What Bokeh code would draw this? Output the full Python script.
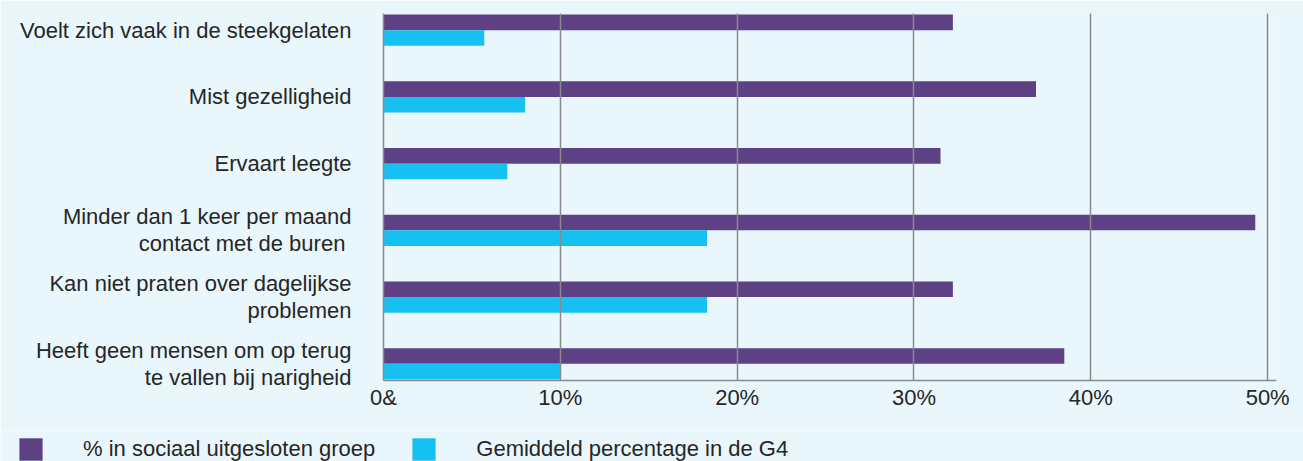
from bokeh.plotting import figure
from bokeh.layouts import column
from bokeh.models import (ColumnDataSource, FactorRange, Range1d, FixedTicker,
                          Legend, LegendItem)
from bokeh.transform import dodge
from bokeh.embed import file_html
from bokeh.resources import INLINE

# ---- data ----
categories = [
    "Voelt zich vaak in de steekgelaten",
    "Mist gezelligheid",
    "Ervaart leegte",
    "Minder dan 1 keer per maand\ncontact met de  buren",
    "Kan niet praten over dagelijkse\nproblemen",
    "Heeft geen mensen om op terug\nte vallen bij narigheid",
]
excluded_pct = [32.2, 36.9, 31.5, 49.3, 32.2, 38.5]
g4_avg_pct = [5.7, 8.0, 7.0, 18.3, 18.3, 10.0]
series_names = ["% in sociaal uitgesloten groep", "Gemiddeld percentage in de G4"]
series_colors = ["#5e4085", "#16c1f2"]
tick_values = [0, 10, 20, 30, 40, 50]
tick_labels = ["0&", "10%", "20%", "30%", "40%", "50%"]

# ---- style ----
BG = "#e9f6fc"
PURPLE, CYAN = series_colors
GRID = "#8a8a8a"
TEXT = "#262626"
FONT = "Liberation Sans"
FSIZE = "22px"

source = ColumnDataSource(dict(cat=categories, excluded=excluded_pct, g4=g4_avg_pct))

y_range = FactorRange(factors=categories[::-1], range_padding=-0.25,
                      range_padding_units="absolute")

p = figure(width=1303, height=430, y_range=y_range, x_range=Range1d(0, 50.5),
           output_backend="svg", toolbar_location=None,
           min_border_left=383, min_border_right=27,
           min_border_top=13, min_border_bottom=50)
p.background_fill_color = BG
p.border_fill_color = BG
p.outline_line_color = None
p.frame_align = False

p.hbar(y=dodge("cat", 0.1175, range=p.y_range), left=0, right="excluded",
       height=0.235, source=source, color=PURPLE, line_color=None)
p.hbar(y=dodge("cat", -0.1175, range=p.y_range), left=0, right="g4",
       height=0.235, source=source, color=CYAN, line_color=None)

# grid
p.ygrid.grid_line_color = None
p.xgrid.grid_line_color = GRID
p.xgrid.grid_line_width = 1.5
p.xgrid.level = "overlay"

# x axis
p.xaxis.ticker = FixedTicker(ticks=tick_values)
p.xaxis.major_label_overrides = {v: l for v, l in zip(tick_values, tick_labels)}
p.xaxis.axis_line_color = GRID
p.xaxis.axis_line_width = 1.5
p.xaxis.major_tick_line_color = None
p.xaxis.minor_tick_line_color = None
p.xaxis.major_tick_in = 0
p.xaxis.major_tick_out = 0
p.xaxis.major_label_standoff = 4
p.xaxis.major_label_text_font = FONT
p.xaxis.major_label_text_font_size = FSIZE
p.xaxis.major_label_text_color = TEXT

# y axis
p.yaxis.axis_line_color = GRID
p.yaxis.axis_line_width = 1.5
p.yaxis.major_tick_line_color = None
p.yaxis.minor_tick_line_color = None
p.yaxis.major_tick_in = 0
p.yaxis.major_tick_out = 0
p.yaxis.major_label_standoff = 32
p.yaxis.major_label_text_font = FONT
p.yaxis.major_label_text_font_size = FSIZE
p.yaxis.major_label_text_color = TEXT
p.yaxis.major_label_text_line_height = 1.08

# ---- legend strip (separate small figure below the chart) ----
lg = figure(width=1303, height=31, x_range=Range1d(0, 1), y_range=Range1d(0, 1),
            output_backend="svg", toolbar_location=None,
            min_border_left=0, min_border_right=0, min_border_top=0,
            min_border_bottom=0)
lg.frame_align = False
lg.axis.visible = False
lg.grid.visible = False
lg.background_fill_color = BG
lg.border_fill_color = BG
lg.outline_line_color = None
# legend swatches (not shown in the plot area itself)
proxies = [lg.rect(x=[0.5], y=[0.5], width=1, height=1, color=c, line_color=None,
                   visible=False) for c in series_colors]

legend = Legend(items=[LegendItem(label=n, renderers=[r])
                       for n, r in zip(series_names, proxies)],
                orientation="horizontal", location=(16, -2),
                padding=0, margin=0, spacing=34, label_standoff=38,
                glyph_width=29, glyph_height=28, label_height=22,
                border_line_color=None, background_fill_alpha=0,
                inactive_fill_alpha=0,
                label_text_font=FONT, label_text_font_size=FSIZE,
                label_text_color=TEXT)
lg.add_layout(legend, "center")

layout = column(p, lg, spacing=0)
html = file_html(layout, INLINE)
html = html.replace("<body>", '<body style="background:%s">' % BG, 1)
open("out.html", "w").write(html)
